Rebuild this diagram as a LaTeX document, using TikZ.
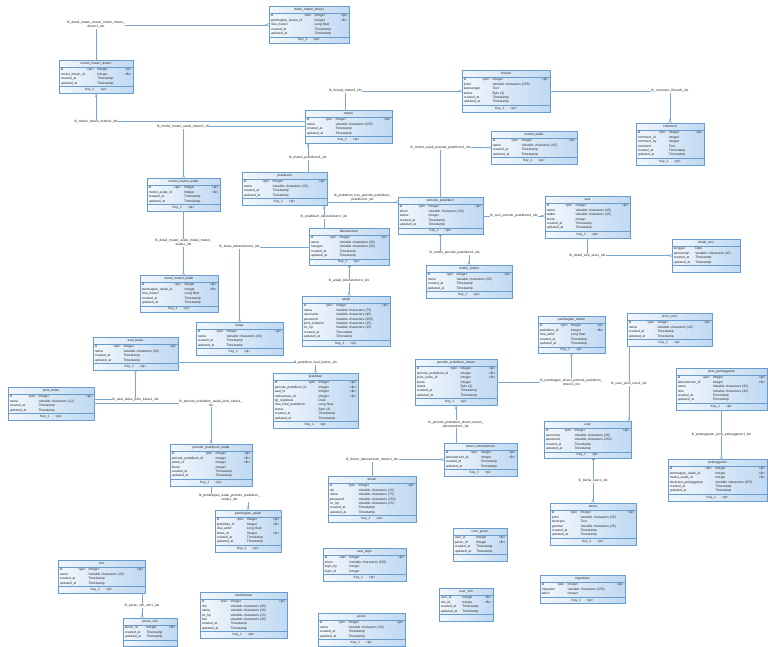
\documentclass[tikz,border=0pt]{standalone}
\usepackage{fontspec}
\setmainfont{Liberation Sans}
\usepackage{tikz}
\usetikzlibrary{arrows.meta,shapes.multipart}
\definecolor{ERedge}{RGB}{104,156,206}
\definecolor{ERlight}{RGB}{242,247,253}
\definecolor{ERblue}{RGB}{192,217,242}
\definecolor{ERline}{RGB}{122,168,208}
\definecolor{ERtext}{RGB}{40,40,40}
\catcode`\_=12
\newcommand\ertext{\fontsize{3.3}{4.4}\selectfont}
\newcommand\lbltext{\fontsize{3.3}{4}\selectfont}
\newcommand\erows[1]{\ertext\begin{tabular*}{\linewidth}{@{}l@{\hspace{2pt}}l@{\hspace{3pt}}l@{\extracolsep{\fill}}r@{}}#1\end{tabular*}}
\newcommand\pkrow{id&<pk>&Integer&<pi>\\}
\newcommand\tsrows{created_at&&Timestamp&\\updated_at&&Timestamp&}
\newcommand\keyrow{\ertext\strut Key_1\hspace{6pt}<pi>\hfill}
\newcommand\nokey{\ertext\strut\hfill}
\tikzset{
  entity/.style={rectangle split,rectangle split parts=3,draw=ERedge,line width=.5pt,
                 left color=ERlight,right color=ERblue,anchor=north west,align=center,
                 inner xsep=1.5pt,inner ysep=.8pt,font=\ertext,text=ERtext},
  lbl/.style={font=\lbltext,text=ERtext,fill=white,inner sep=.4pt,align=center},
  rl/.style={draw=ERline,line width=.5pt,{Bar[width=3pt]}-{Circle[open,length=1.6pt,width=1.6pt] Straight Barb[reversed,length=1.8pt,width=3.2pt]}},
  rlr/.style={draw=ERline,line width=.5pt,{Straight Barb[reversed,length=1.8pt,width=3.2pt] Circle[open,length=1.6pt,width=1.6pt]}-{Bar[width=3pt]}}
}
\begin{document}
\begin{tikzpicture}[x=1pt,y=-1pt]
  \path[use as bounding box,fill=white] (0,0) rectangle (768,646);
  \node[entity,text width=76.5pt] (dmd) at (269,6) {\strut detail_materi_dosen\nodepart{two}\erows{\pkrow pembagian_dosen_id&&Integer&<fk>\\nilai_materi&&Long float&\\\tsrows}\nodepart{three}\keyrow};
  \node[entity,text width=70.5pt] (mmd) at (59,60) {\strut modul_materi_dosen\nodepart{two}\erows{\pkrow modul_dosen_id&&Integer&<fk>\\\tsrows}\nodepart{three}\keyrow};
  \node[entity,text width=84.5pt] (thread) at (462,70) {\strut thread\nodepart{two}\erows{\pkrow judul&&Variable characters (255)&\\keterangan&&Text&\\status&&Byte (4)&\\\tsrows}\nodepart{three}\keyrow};
  \node[entity,text width=64.5pt] (comment) at (636,123) {\strut comment\nodepart{two}\erows{\pkrow comment_id&&Integer&\\comment_by&&Integer&\\comment&&Text&\\\tsrows}\nodepart{three}\keyrow};
  \node[entity,text width=83.5pt] (materi) at (305,110) {\strut materi\nodepart{two}\erows{\pkrow nama&&Variable characters (255)&\\\tsrows}\nodepart{three}\keyrow};
  \node[entity,text width=82.5pt] (maslab) at (491,131) {\strut modul_aslab\nodepart{two}\erows{\pkrow nama&&Variable characters (45)&\\\tsrows}\nodepart{three}\keyrow};
  \node[entity,text width=81.5pt] (prak) at (242,172) {\strut praktikum\nodepart{two}\erows{\pkrow nama&&Variable characters (45)&\\\tsrows}\nodepart{three}\keyrow};
  \node[entity,text width=69.5pt] (mma) at (147,178) {\strut modul_materi_aslab\nodepart{two}\erows{\pkrow modul_aslab_id&&Integer&<fk>\\\tsrows}\nodepart{three}\keyrow};
  \node[entity,text width=81.5pt] (pp) at (398,197) {\strut periode_praktikum\nodepart{two}\erows{\pkrow tahun&&Variable characters (45)&\\status&&Integer&\\\tsrows}\nodepart{three}\keyrow};
  \node[entity,text width=81.5pt] (sesi) at (545,196) {\strut sesi\nodepart{two}\erows{\pkrow nama&&Variable characters (45)&\\waktu&&Variable characters (45)&\\kuota&&Integer&\\\tsrows}\nodepart{three}\keyrow};
  \node[entity,text width=64.5pt] (dsesi) at (672,239) {\strut detail_sesi\nodepart{two}\erows{tanggal&&Date&\\pertemuan&&Variable characters (45)&\\\tsrows}\nodepart{three}\nokey};
  \node[entity,text width=76.5pt] (lab) at (309,228) {\strut laboratorium\nodepart{two}\erows{\pkrow nama&&Variable characters (45)&\\ruangan&&Variable characters (45)&\\\tsrows}\nodepart{three}\keyrow};
  \node[entity,text width=82.5pt] (mdosen) at (426,265) {\strut modul_dosen\nodepart{two}\erows{\pkrow nama&&Variable characters (45)&\\\tsrows}\nodepart{three}\keyrow};
  \node[entity,text width=74.5pt] (dma) at (140,275) {\strut detail_materi_aslab\nodepart{two}\erows{\pkrow pembagian_aslab_id&&Integer&<fk>\\nilai_materi&&Long float&\\\tsrows}\nodepart{three}\keyrow};
  \node[entity,text width=84.5pt] (aslab) at (302,296) {\strut aslab\nodepart{two}\erows{\pkrow nama&&Variable characters (75)&\\username&&Variable characters (45)&\\password&&Variable characters (255)&\\jenis_kelamin&&Variable characters (15)&\\no_hp&&Variable characters (15)&\\\tsrows}\nodepart{three}\keyrow};
  \node[entity,text width=83.5pt] (kelas) at (196,322) {\strut kelas\nodepart{two}\erows{\pkrow nama&&Variable characters (45)&\\\tsrows}\nodepart{three}\keyrow};
  \node[entity,text width=81.5pt] (asal) at (93,337) {\strut asal_kelas\nodepart{two}\erows{\pkrow nama&&Variable characters (45)&\\\tsrows}\nodepart{three}\keyrow};
  \node[entity,text width=82.5pt] (jkelas) at (8,387) {\strut jenis_kelas\nodepart{two}\erows{\pkrow nama&&Variable characters (12)&\\\tsrows}\nodepart{three}\keyrow};
  \node[entity,text width=81.5pt] (praktikan) at (273,373) {\strut praktikan\nodepart{two}\erows{\pkrow periode_praktikum_id&&Integer&<fk>\\asal_id&&Integer&<fk>\\mahasiswa_id&&Integer&<fk>\\tgl_registrasi&&Date&\\nilai_total_praktikum&&Long float&\\status&&Byte (4)&\\\tsrows}\nodepart{three}\keyrow};
  \node[entity,text width=78.5pt] (ppd) at (415,359) {\strut periode_praktikum_dosen\nodepart{two}\erows{\pkrow periode_praktikum_id&&Integer&<fk>\\jenis_kelas_id&&Integer&<fk>\\kuota&&Integer&\\status&&Byte (4)&\\\tsrows}\nodepart{three}\keyrow};
  \node[entity,text width=63.5pt] (pdosen) at (538,316) {\strut pembagian_dosen\nodepart{two}\erows{\pkrow praktikum_id&&Integer&<fk>\\nilai_akhir&&Long float&\\\tsrows}\nodepart{three}\keyrow};
  \node[entity,text width=81.5pt] (juser) at (627,313) {\strut jenis_user\nodepart{two}\erows{\pkrow nama&&Variable characters (45)&\\\tsrows}\nodepart{three}\keyrow};
  \node[entity,text width=87.5pt] (jpel) at (676,368) {\strut jenis_pelanggaran\nodepart{two}\erows{\pkrow laboratorium_id&&Integer&<fk>\\nama&&Variable characters (45)&\\nilai&&Variable characters (45)&\\\tsrows}\nodepart{three}\keyrow};
  \node[entity,text width=83.5pt] (user) at (544,421) {\strut user\nodepart{two}\erows{\pkrow username&&Variable characters (45)&\\password&&Variable characters (255)&\\\tsrows}\nodepart{three}\keyrow};
  \node[entity,text width=69.5pt] (dlab) at (444,443) {\strut dosen_laboratorium\nodepart{two}\erows{\pkrow laboratorium_id&&Integer&<fk>\\\tsrows}\nodepart{three}\keyrow};
  \node[entity,text width=84.5pt] (dosen) at (328,476) {\strut dosen\nodepart{two}\erows{\pkrow nip&&Variable characters (15)&\\nama&&Variable characters (75)&\\password&&Variable characters (255)&\\no_hp&&Variable characters (15)&\\\tsrows}\nodepart{three}\keyrow};
  \node[entity,text width=78.5pt] (ppa) at (170,444) {\strut periode_praktikum_aslab\nodepart{two}\erows{\pkrow periode_praktikum_id&&Integer&<fk>\\aslab_id&&Integer&<fk>\\kuota&&Integer&\\\tsrows}\nodepart{three}\keyrow};
  \node[entity,text width=62.5pt] (paslab) at (215,510) {\strut pembagian_aslab\nodepart{two}\erows{\pkrow praktikan_id&&Integer&<fk>\\nilai_akhir&&Long float&\\kelas_id&&Integer&<fk>\\\tsrows}\nodepart{three}\keyrow};
  \node[entity,text width=82.5pt] (berita) at (550,503) {\strut berita\nodepart{two}\erows{\pkrow judul&&Variable characters (45)&\\deskripsi&&Text&\\gambar&&Variable characters (45)&\\\tsrows}\nodepart{three}\keyrow};
  \node[entity,text width=95.5pt] (pel) at (668,459) {\strut pelanggaran\nodepart{two}\erows{\pkrow pembagian_aslab_id&&Integer&<fk>\\modul_aslab_id&&Integer&<fk>\\deskripsi_pelanggaran&&Variable characters (255)&\\\tsrows}\nodepart{three}\keyrow};
  \node[entity,text width=50.5pt] (uperan) at (453,528) {\strut user_peran\nodepart{two}\erows{user_id&&Integer&<fk>\\peran_id&&Integer&<fk>\\\tsrows}\nodepart{three}\nokey};
  \node[entity,text width=79.5pt] (login) at (323,548) {\strut sesi_login\nodepart{two}\erows{\pkrow token&&Variable characters (255)&\\login_by&&Integer&\\login_id&&Integer&}\nodepart{three}\keyrow};
  \node[entity,text width=50.5pt] (usim) at (439,588) {\strut user_sim\nodepart{two}\erows{user_id&&Integer&<fk>\\sim_id&&Integer&<fk>\\\tsrows}\nodepart{three}\nokey};
  \node[entity,text width=81.5pt] (migr) at (540,575) {\strut migrations\nodepart{two}\erows{\pkrow migration&&Variable characters (255)&\\batch&&Integer&}\nodepart{three}\keyrow};
  \node[entity,text width=83.5pt] (sim) at (58,560) {\strut sim\nodepart{two}\erows{\pkrow nama&&Variable characters (45)&\\\tsrows}\nodepart{three}\keyrow};
  \node[entity,text width=50.5pt] (psim) at (123,618) {\strut peran_sim\nodepart{two}\erows{peran_id&&Integer&<fk>\\\tsrows}\nodepart{three}\nokey};
  \node[entity,text width=83.5pt] (mhs) at (200,592) {\strut mahasiswa\nodepart{two}\erows{\pkrow nim&&Variable characters (45)&\\nama&&Variable characters (45)&\\no_hp&&Variable characters (15)&\\foto&&Variable characters (45)&\\\tsrows}\nodepart{three}\keyrow};
  \node[entity,text width=83.5pt] (peran) at (318,613) {\strut peran\nodepart{two}\erows{\pkrow nama&&Variable characters (45)&\\\tsrows}\nodepart{three}\keyrow};
  \draw[rlr] (dmd.west) -| node[lbl,pos=.5]{fk_detail_materi_dosen_modul_materi_\\dosen1_idx} (mmd.north);
  \draw[rlr] (mmd.south) |- node[lbl,pos=.5]{fk_materi_dosen_materi1_idx} ([yshift=5pt]materi.west);
  \draw[rl] (materi.west) -| node[lbl,pos=.5]{fk_modul_materi_aslab_materi1_idx} (mma.north);
  \draw[rlr] (thread.west) -| node[lbl,pos=.5]{fk_thread_materi1_idx} ([xshift=-3pt]materi.north);
  \draw[rl] (thread.east) -| node[lbl,pos=.5]{fk_comment_thread1_idx} (comment.north);
  \draw[rlr] ([xshift=3pt]materi.south west) -- node[lbl]{fk_materi_praktikum1_idx} ([xshift=3pt]materi.south west |- prak.north);
  \draw[rl] ([yshift=3pt]prak.south east) -- node[lbl,fill=none,above=0pt]{fk_praktikum_has_periode_praktikum_\\praktikum1_idx} ([yshift=3pt]prak.south east -| pp.west);
  \draw[rlr] ([xshift=-3pt]prak.south east) -- node[lbl]{fk_praktikum_laboratorium1_idx} ([xshift=-3pt]prak.south east |- lab.north);
  \draw[rlr] (maslab.west) -| node[lbl,pos=.5]{fk_modul_aslab_periode_praktikum1_idx} (pp.north);
  \draw[rl] (pp.east) -- node[lbl]{fk_sesi_periode_praktikum1_idx} (pp.east -| sesi.west);
  \draw[rl] (pp.south) -- ++(0,18) -| node[lbl,pos=.25]{fk_modul_periode_praktikum1_idx} (mdosen.north);
  \draw[rl] (sesi.south) |- node[lbl,pos=.5]{fk_detail_sesi_sesi1_idx} (dsesi.west);
  \draw[rl] (mma.south) -- node[lbl]{fk_detail_materi_aslab_modul_materi_\\aslab1_idx} (mma.south |- dma.north);
  \draw[rl] (lab.west) -| node[lbl,pos=.5]{fk_kelas_laboratorium1_idx} (kelas.north);
  \draw[rl] (lab.south) -- node[lbl]{fk_aslab_laboratorium1_idx} (lab.south |- aslab.north);
  \draw[rl] ([yshift=-9pt]asal.east) -| node[lbl,pos=.5]{fk_praktikan_asal_kelas1_idx} (praktikan.north);
  \draw[rlr] (asal.south) |- node[lbl,pos=.5]{fk_asal_kelas_jenis_kelas1_idx} ([yshift=4pt]jkelas.east);
  \draw[rl] (jkelas.east) -| node[lbl,pos=.5]{fk_periode_praktikum_aslab_jenis_kelas1_\\idx} (ppa.north);
  \draw[rl] (ppa.south) -- ++(0,12) -| node[lbl,pos=.25]{fk_pembagian_aslab_periode_praktikum_\\aslab1_idx} (paslab.north);
  \draw[rl] (ppd.east) -| node[lbl,pos=.5]{fk_pembagian_dosen_periode_praktikum_\\dosen1_idx} (pdosen.south);
  \draw[rl] ([xshift=2pt]juser.south west) -- node[lbl]{fk_user_jenis_user1_idx} ([xshift=2pt]juser.south west |- user.north);
  \draw[rlr] (ppd.south) -- node[lbl]{fk_periode_praktikum_dosen_dosen_\\laboratorium1_idx} (ppd.south |- dlab.north);
  \draw[rlr] (dlab.west) -| node[lbl,pos=.5]{fk_dosen_laboratorium_dosen1_idx} (dosen.north);
  \draw[rlr] (berita.north) -- node[lbl]{fk_berita_user1_idx} (berita.north |- user.south);
  \draw[rl] (jpel.south) -- node[lbl]{fk_pelanggaran_jenis_pelanggaran1_idx} (jpel.south |- pel.north);
  \draw[rl] ([xshift=-3pt]sim.south east) -- node[lbl]{fk_peran_sim_sim1_idx} ([xshift=-3pt]sim.south east |- psim.north);
\end{tikzpicture}
\end{document}
